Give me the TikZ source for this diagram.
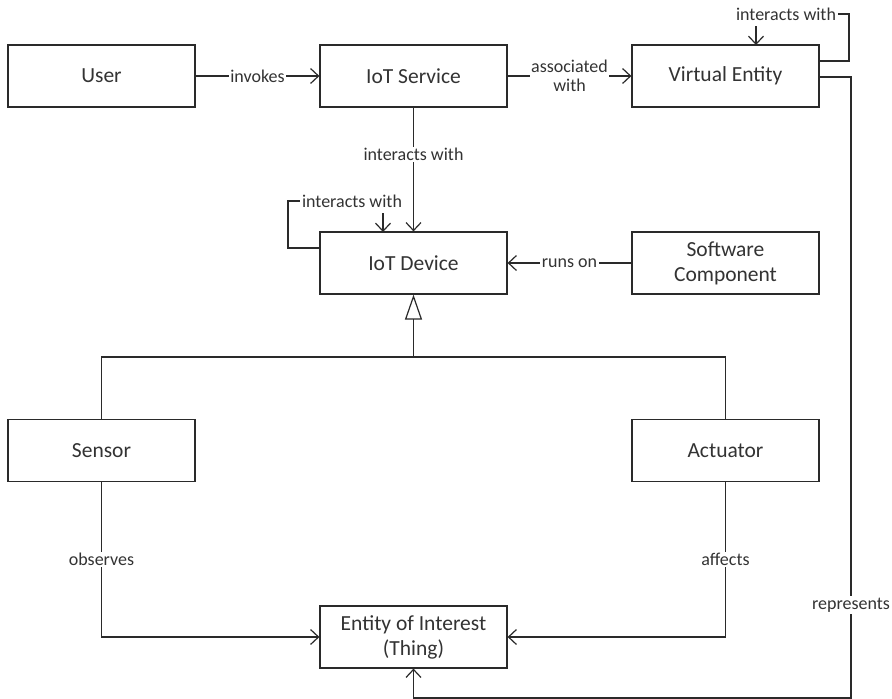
\documentclass[tikz,border=0pt]{standalone}
\usepackage{fontspec}
\setmainfont{Carlito}
\usetikzlibrary{arrows.meta,calc}
\definecolor{ink}{HTML}{2A2A2A}
\definecolor{txt}{HTML}{333333}
\tikzset{
  box/.style={draw=ink, line width=1.2pt, minimum width=187pt, minimum height=62pt, inner sep=0pt,
    text=txt, align=center, font=\fontsize{21.5}{25}\selectfont},
  lbl/.style={fill=white, text=txt, inner sep=1.5pt, align=center, font=\fontsize{18}{19}\selectfont},
  conn/.style={draw=ink, line width=1.2pt},
  arr/.style={conn, -{Straight Barb[length=8pt,width=15pt,line width=1.2pt]}},
  gen/.style={conn, -{Triangle[open,length=25pt,width=17pt,line width=1.2pt]}}
}
\begin{document}
\begin{tikzpicture}[x=1pt,y=-1pt]
\fill[white] (0,0) rectangle (892,699);
\useasboundingbox (0,0) rectangle (892,699);
\node[box] (user) at (101.5,76) {User};
\node[box] (svc) at (413.5,76) {IoT Service};
\node[box] (ve) at (725.5,76) {Virtual Entity};
\node[box] (dev) at (413.5,263) {IoT Device};
\node[box] (sw) at (725.5,263) {Software\\Component};
\node[box] (sen) at (101.5,450.5) {Sensor};
\node[box] (act) at (725.5,450.5) {Actuator};
\node[box] (ent) at (413.5,637) {Entity of Interest\\(Thing)};

% invokes / associated with
\draw[arr] (user.east) -- node[lbl]{invokes} (svc.west);
\draw[arr] (svc.east) -- node[lbl]{associated\\with} (ve.west);
% service -> device
\draw[arr] (svc.south) -- node[lbl,pos=0.38]{interacts with} (dev.north);
% runs on
\draw[arr] (sw.west) -- node[lbl]{runs on} (dev.east);

% self loop on IoT Device
\node[lbl] (l1) at (352,201) {interacts with};
\coordinate (d1) at (320,248);
\coordinate (d2) at (288,248);
\coordinate (d3) at (383,213);
\coordinate (d4) at (383,232);
\draw[conn] (d1) -- (d2) |- (l1.west);
\draw[arr] (d3) -- (d4);

% self loop on Virtual Entity
\node[lbl] (l2) at (786,14) {interacts with};
\coordinate (v1) at (819,61);
\coordinate (v2) at (849,61);
\coordinate (v3) at (756,26);
\coordinate (v4) at (756,45);
\draw[conn] (v1) -- (v2) |- (l2.east);
\draw[arr] (v3) -- (v4);

% represents
\coordinate (r1) at (819,77);
\coordinate (r2) at (851,77);
\coordinate (r3) at (851,698);
\coordinate (r4) at (413.5,698);
\draw[arr] (r1) -- (r2) -- node[lbl,pos=0.85]{represents} (r3) -- (r4) -- (ent.south);

% generalization
\coordinate (bar) at (413.5,357);
\draw[conn] (sen.north) -- (sen.north |- bar) -- (act.north |- bar) -- (act.north);
\draw[gen] (bar) -- (dev.south);

% observes / affects
\draw[arr] (sen.south) |- node[lbl,pos=0.25]{observes} (ent.west);
\draw[arr] (act.south) |- node[lbl,pos=0.25]{affects} (ent.east);
\end{tikzpicture}
\end{document}
